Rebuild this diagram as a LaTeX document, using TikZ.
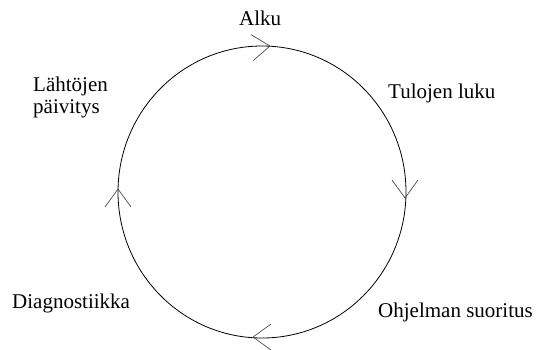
\documentclass[tikz,border=0pt]{standalone}
\usepackage{fontspec}
\setmainfont{Liberation Serif}
\tikzset{
  lbl/.style={inner sep=0pt, font=\fontsize{21}{21.5}\selectfont},
  loop/.style={line width=0.8pt, black},
  barb/.pic={\draw[line width=0.7pt, black!70] (-18,13) -- (0,0) -- (-18,-13);}
}
\begin{document}
\begin{tikzpicture}[x=1pt,y=-1pt]
\useasboundingbox (0,0) rectangle (537,349);
\coordinate (c) at (262,192);
\draw[loop] (c) ellipse [x radius=144, y radius=146];
\coordinate (atop) at (270,46);
\coordinate (aright) at (405,198);
\coordinate (abottom) at (253,337);
\coordinate (aleft) at (118,189);
\pic[rotate=5] at (atop) {barb};
\pic[rotate=-90] at (aright) {barb};
\pic[rotate=180] at (abottom) {barb};
\pic[rotate=90] at (aleft) {barb};
\node[lbl, anchor=base west] (alku) at (239,25) {Alku};
\node[lbl, anchor=base west] (tulo) at (388,98) {Tulojen luku};
\node[lbl, anchor=north west, align=left] (lahto) at (33,77) {Lähtöjen\\päivitys};
\node[lbl, anchor=base west] (diag) at (12,308) {Diagnostiikka};
\node[lbl, anchor=base west] (ohj) at (378,317) {Ohjelman suoritus};
\end{tikzpicture}
\end{document}
